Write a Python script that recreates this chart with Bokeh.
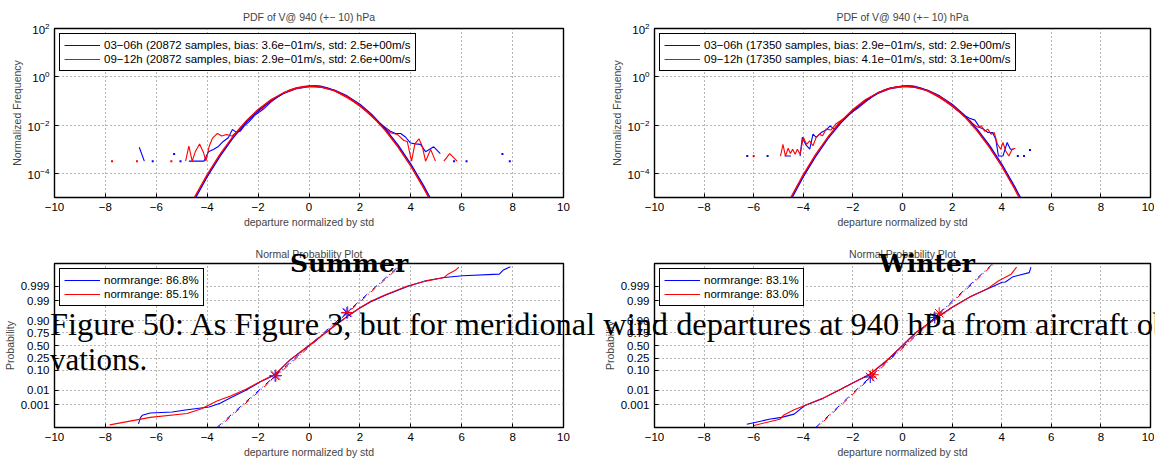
from bokeh.plotting import figure
from bokeh.layouts import gridplot, column
from bokeh.models import FixedTicker, Legend, LegendItem, Range1d, Div
from bokeh.embed import file_html
from bokeh.resources import INLINE

nan = float("nan")

# ------------------------------------------------------------------ data
x_ticks = [-10, -8, -6, -4, -2, 0, 2, 4, 6, 8, 10]
x_tick_labels = ["\u221210", "\u22128", "\u22126", "\u22124", "\u22122", "0", "2", "4", "6", "8", "10"]
pdf_ticks = [1e-4, 1e-2, 1, 1e2]
prob_ticks_z = [-3.0902, -2.3263, -1.2816, -0.6745, 0.0, 0.6745, 1.2816, 2.3263, 3.0902]
prob_tick_labels = ["0.001", "0.01", "0.10", "0.25", "0.50", "0.75", "0.90", "0.99", "0.999"]

titles_pdf = "PDF of V@ 940 (+\u2212 10) hPa"
title_np = "Normal Probability Plot"
xlabel = "departure normalized by std"

summer_legend = ["03\u221206h (20872 samples, bias: 3.6e\u221201m/s, std: 2.5e+00m/s",
                 "09\u221212h (20872 samples, bias: 2.9e\u221201m/s, std: 2.6e+00m/s"]
winter_legend = ["03\u221206h (17350 samples, bias: 2.9e\u221201m/s, std: 2.9e+00m/s",
                 "09\u221212h (17350 samples, bias: 4.1e\u221201m/s, std: 3.1e+00m/s"]
summer_np_legend = ["normrange: 86.8%", "normrange: 85.1%"]
winter_np_legend = ["normrange: 83.1%", "normrange: 83.0%"]

# fitted normal curves
fit_x = [-4.5, -4.0, -3.5, -3.0, -2.5, -2.0, -1.5, -1.0, -0.5, 0.0, 0.15, 0.5, 1.0, 1.5, 2.0, 2.5, 3.0, 3.5, 4.0, 4.5, 4.8]
fit_blue_y = [8.1e-6, 7.3e-5, 5.1e-4, 2.8e-3, 1.19e-2, 3.95e-2, 0.102, 0.206, 0.323, 0.394, 0.399, 0.375, 0.278, 0.160, 0.0721, 0.0252, 6.9e-3, 1.46e-3, 2.4e-4, 3.1e-5, 8.1e-6]
fit_red_y = [1.02e-5, 8.95e-5, 6.1e-4, 3.27e-3, 1.36e-2, 4.4e-2, 0.111, 0.218, 0.333, 0.397, 0.398, 0.368, 0.266, 0.150, 0.0657, 0.0224, 5.96e-3, 1.23e-3, 1.99e-4, 2.5e-5, 6.4e-6]

# summer empirical PDFs
summer_blue_x = [-6.67, -6.47, nan,
                 -4.72, -4.13, -3.95, -3.76, -3.56, -3.37, -3.17, -3.01, -2.87, -2.70, -2.55, -2.35, -2.15, -1.95,
                 -1.75, -1.5, -1.25, -1.0, -0.75, -0.5, -0.25, 0.0, 0.25, 0.5, 0.75, 1.0, 1.25, 1.5, 1.75, 2.0,
                 2.25, 2.5, 2.75, 3.01, 3.2, 3.4, 3.6, 3.79, 3.99, 4.18, 4.38, 4.58, 4.9, 5.16]
summer_blue_y = [1.2e-3, 3.2e-4, nan,
                 3.2e-4, 3.2e-4, 7.9e-4, 9.8e-4, 1.3e-3, 2.1e-3, 3.0e-3, 6.6e-3, 5.1e-3, 5.6e-3, 9.1e-3, 1.4e-2, 2.4e-2, 3.5e-2,
                 5.0e-2, 8.9e-2, 0.14, 0.21, 0.275, 0.34, 0.38, 0.41, 0.43, 0.40, 0.34, 0.27, 0.20, 0.148, 0.10, 0.063,
                 0.038, 0.022, 0.0126, 7.8e-3, 5.6e-3, 4.5e-3, 4.5e-3, 3.2e-3, 1.8e-3, 1.66e-3, 1.58e-3, 7.9e-4, 1.26e-3, 6.6e-4]
summer_blue_dots_x = [-6.14, -5.3, -5.05, 5.7, 6.19, 7.6, 7.89]
summer_blue_dots_y = [3.2e-4, 6.3e-4, 3.2e-4, 3.2e-4, 3.2e-4, 6.3e-4, 3.2e-4]

summer_red_x = [-4.85, -4.72, -4.59, -4.46, -4.30, -4.14, -4.05, -3.92, -3.79, -3.60, -3.43, -3.24, -3.04, -2.84, -2.65,
                -2.45, -2.25, -2.0, -1.75, -1.5, -1.25, -1.0, -0.75, -0.5, -0.25, 0.0, 0.25, 0.5, 0.75, 1.0, 1.25,
                1.5, 1.75, 2.0, 2.25, 2.5, 2.75, 2.94, 3.2, 3.47, 3.73, 3.86, 4.03, 4.16, 4.32, 4.45, 4.58, 4.78, 4.97,
                nan, 5.30, 5.53, 5.82]
summer_red_y = [3.2e-4, 1.33e-3, 3.2e-4, 8.3e-4, 1.66e-3, 7.1e-4, 3.2e-4, 1.33e-3, 2.9e-3, 4.5e-3, 3.5e-3, 4.1e-3, 3.5e-3, 5.2e-3, 9.0e-3,
                1.35e-2, 2.1e-2, 3.6e-2, 5.8e-2, 9.3e-2, 0.145, 0.215, 0.29, 0.35, 0.39, 0.42, 0.42, 0.39, 0.33, 0.26, 0.19,
                0.135, 0.092, 0.060, 0.037, 0.021, 0.0125, 8.3e-3, 4.8e-3, 4.1e-3, 2.3e-3, 2.1e-3, 3.2e-4, 1.66e-3, 2.7e-3, 1.33e-3, 3.2e-4, 9.8e-4, 3.2e-4,
                nan, 3.2e-4, 6.6e-4, 3.2e-4]
summer_red_dots_x = [-7.74, -6.76, -5.41]
summer_red_dots_y = [3.2e-4, 3.2e-4, 3.2e-4]

# winter empirical PDFs
winter_blue_x = [-4.75, -4.5, nan,
                 -4.13, -4.04, -3.91, -3.74, -3.61, -3.48, -3.28, -3.08, -2.92, -2.76, -2.56, -2.3, -2.0, -1.75, -1.5,
                 -1.25, -1.0, -0.75, -0.5, -0.25, 0.0, 0.25, 0.5, 0.75, 1.0, 1.25, 1.5, 1.75, 2.0, 2.25, 2.5, 2.7,
                 2.92, 3.11, 3.27, 3.44, 3.63, 3.76, 3.87, 4.05, 4.22, 4.35, 4.48]
winter_blue_y = [5.2e-4, 5.2e-4, nan,
                 5.2e-4, 3.1e-3, 1.6e-3, 1.0e-3, 4.2e-3, 3.1e-3, 4.9e-3, 6.2e-3, 9.3e-3, 6.8e-3, 1.2e-2, 2.1e-2, 3.6e-2, 5.5e-2, 9.0e-2,
                 0.14, 0.21, 0.28, 0.34, 0.38, 0.41, 0.43, 0.40, 0.34, 0.27, 0.20, 0.14, 0.095, 0.061, 0.038, 0.025, 0.019,
                 1.6e-2, 8.0e-3, 6.8e-3, 4.9e-3, 4.9e-3, 2.6e-3, 5.2e-4, 5.2e-4, 1.9e-3, 1.0e-3, 1.0e-3]
winter_blue_dots_x = [-6.26, -5.44, 4.65, 4.9, 5.14]
winter_blue_dots_y = [5.2e-4, 5.2e-4, 5.2e-4, 5.2e-4, 9.3e-4]

winter_red_x = [-4.92, -4.82, -4.72, -4.61, -4.52, -4.43, -4.33, -4.24, -4.13, -4.0, -3.87, -3.74, -3.61, -3.48, -3.35,
                -3.22, -3.08, -2.89, -2.69, -2.5, -2.25, -2.0, -1.75, -1.5, -1.25, -1.0, -0.75, -0.5, -0.25, 0.0, 0.25,
                0.5, 0.75, 1.0, 1.25, 1.5, 1.75, 2.0, 2.25, 2.5, 2.7, 2.85, 3.05, 3.18, 3.31, 3.44, 3.57, 3.70, 3.83,
                3.96, 4.05, 4.16, 4.29, 4.42, 4.55]
winter_red_y = [5.2e-4, 1.6e-3, 5.2e-4, 1.1e-3, 6.6e-4, 1.0e-3, 6.2e-4, 1.0e-3, 6.2e-4, 3.1e-3, 1.6e-3, 2.2e-3, 1.4e-3, 3.1e-3, 4.2e-3,
                3.6e-3, 6.8e-3, 6.2e-3, 1.1e-2, 1.5e-2, 2.3e-2, 3.8e-2, 5.9e-2, 9.4e-2, 0.145, 0.215, 0.285, 0.345, 0.385, 0.415, 0.42,
                0.39, 0.33, 0.26, 0.19, 0.135, 0.092, 0.060, 0.038, 0.023, 0.016, 1.1e-2, 8.0e-3, 9.3e-3, 5.5e-3, 6.8e-3, 4.2e-3, 4.9e-3, 1.6e-3,
                1.0e-3, 1.9e-3, 8.5e-4, 5.2e-4, 1.0e-3, 1.1e-3]
winter_red_dots_x = [-6.0]
winter_red_dots_y = [5.2e-4]

# normal probability plots: departure vs. probability (on the normal quantile scale)
summer_np_blue_x = [-6.70, -6.62, -6.55, -6.24, -5.37, -4.79, -3.93, -3.49, -3.06, -2.48, -1.91, -1.33, -0.75, 0.0,
                    0.75, 1.49, 2.0, 2.43, 3.0, 3.87, 4.59, 5.31, 6.04, 7.48, 7.62, 7.91]
summer_np_blue_z = [-4.08, -3.75, -3.63, -3.51, -3.46, -3.34, -3.2, -3.0, -2.70, -2.33, -1.89, -1.52, -0.76, 0.0,
                    0.76, 1.50, 1.95, 2.28, 2.61, 3.07, 3.37, 3.54, 3.63, 3.71, 3.91, 4.1]
summer_np_red_x = [-7.83, -6.24, -4.79, -4.22, -3.64, -3.06, -2.48, -1.91, -1.33, -0.75, 0.0, 0.75, 1.49, 2.0,
                   2.43, 3.0, 3.87, 4.59, 5.31, 5.46, 5.75, 5.89]
summer_np_red_z = [-4.13, -3.74, -3.54, -3.29, -2.9, -2.61, -2.28, -1.87, -1.5, -0.75, 0.0, 0.77, 1.50, 1.96,
                   2.30, 2.64, 3.09, 3.35, 3.54, 3.71, 3.91, 4.08]
summer_fit_blue_x = [-3.62, 3.65]
summer_fit_red_x = [-3.56, 3.70]
fit_line_z = [-4.265, 4.265]
summer_star_blue_x = [-1.33, 1.49]
summer_star_blue_z = [-1.58, 1.70]
summer_star_red_x = [-1.30, 1.52]
summer_star_red_z = [-1.56, 1.72]

winter_np_blue_x = [-6.28, -5.38, -4.88, -4.37, -3.94, -3.21, -2.49, -1.91, -1.33, -0.6, 0.0, 0.55, 1.42, 2.0,
                    2.72, 3.44, 4.02, 4.15, 4.46, 5.11, 5.18]
winter_np_blue_z = [-4.1, -3.84, -3.74, -3.57, -3.12, -2.75, -2.28, -1.89, -1.52, -0.75, 0.0, 0.68, 1.48, 1.99,
                    2.53, 2.95, 3.29, 3.3, 3.58, 3.79, 4.08]
winter_np_red_x = [-6.03, -4.95, -4.8, -4.37, -3.79, -3.21, -2.49, -1.91, -1.33, -0.6, 0.0, 0.55, 1.42, 2.0,
                   2.72, 3.44, 3.88, 4.38, 4.6]
winter_np_red_z = [-4.17, -3.84, -3.63, -3.34, -3.04, -2.74, -2.27, -1.88, -1.5, -0.74, 0.0, 0.69, 1.47, 1.98,
                   2.52, 2.97, 3.37, 3.71, 4.08]
winter_fit_blue_x = [-3.50, 3.65]
winter_fit_red_x = [-3.45, 3.70]
winter_star_blue_x = [-1.30, 1.30]
winter_star_blue_z = [-1.64, 1.46]
winter_star_red_x = [-1.20, 1.48]
winter_star_red_z = [-1.52, 1.68]

caption_line1 = "Figure 50: As Figure 3, but for meridional wind departures at 940 hPa from aircraft ob-"
caption_line2 = "vations."
season_labels = ["Summer", "Winter"]

# ------------------------------------------------------------------ layout
W_L, W_R = 600, 554
H_T, H_B = 235, 225
BL_L, BR_L, BL_R, BR_R = 52, 37, 39, 4
BT_T, BB_T, BT_B, BB_B = 28, 38, 28, 28
BLUE, RED = "#0000ff", "#ff0000"
SANS = "Liberation Sans"


def base_fig(w, h, bl, br, bt, bb, title, log):
    kw = dict(width=w, height=h, output_backend="svg", toolbar_location=None, tools="",
              x_range=Range1d(-10, 10), min_border_left=bl, min_border_right=br,
              min_border_top=bt, min_border_bottom=bb, title=title)
    if log:
        kw.update(y_axis_type="log", y_range=Range1d(1e-5, 1e2))
    else:
        kw.update(y_range=Range1d(-4.265, 4.265))
    p = figure(**kw)
    p.title.text_font = SANS
    p.title.text_font_size = "10.5px"
    p.title.text_font_style = "normal"
    p.title.align = "center"
    p.title.standoff = 12 if log else 7
    p.outline_line_color = "black"
    p.outline_line_width = 1.4
    p.outline_line_alpha = 1
    for ax in p.axis:
        ax.axis_line_color = "black"
        ax.major_tick_in = 4
        ax.major_tick_out = 0
        ax.major_tick_line_color = "black"
        ax.minor_tick_line_color = None
        ax.major_label_text_font = SANS
        ax.major_label_text_font_size = "11.5px"
        ax.major_label_text_color = "black"
        ax.axis_label_text_font = SANS
        ax.axis_label_text_font_size = "10.5px"
        ax.axis_label_text_font_style = "normal"
        ax.axis_label_standoff = 2
        ax.major_label_standoff = 5
    p.xaxis.ticker = FixedTicker(ticks=x_ticks)
    p.xaxis.major_label_overrides = dict(zip(x_ticks, x_tick_labels))
    p.xgrid.ticker = FixedTicker(ticks=x_ticks)
    p.xaxis.axis_label = xlabel
    if log:
        p.yaxis.ticker = FixedTicker(ticks=pdf_ticks)
        p.ygrid.ticker = FixedTicker(ticks=pdf_ticks)
        p.yaxis.axis_label = "Normalized Frequency"
    else:
        p.yaxis.ticker = FixedTicker(ticks=prob_ticks_z)
        p.ygrid.ticker = FixedTicker(ticks=prob_ticks_z)
        p.yaxis.major_label_overrides = dict(zip(prob_ticks_z, prob_tick_labels))
        p.yaxis.axis_label = "Probability"
    p.grid.grid_line_color = "#6a6a6a"
    p.grid.grid_line_dash = "1 3"
    p.grid.grid_line_width = 1
    return p


def add_legend(p, rb, rr, labels):
    lg = Legend(items=[LegendItem(label=labels[0], renderers=[rb]),
                       LegendItem(label=labels[1], renderers=[rr])],
                location="top_left", margin=5, padding=4, spacing=0,
                label_height=14, glyph_height=14, glyph_width=36, label_standoff=4,
                label_text_font=SANS, label_text_font_size="11.5px", label_text_color="black",
                border_line_color="black", border_line_width=1.3, border_line_alpha=1,
                background_fill_alpha=1)
    p.add_layout(lg)


def pdf_panel(w, bl, br, bx, by, bdx, bdy, rx, ry, rdx, rdy, labels):
    p = base_fig(w, H_T, bl, br, BT_T, BB_T, titles_pdf, True)
    rb = p.line(bx, by, color=BLUE, line_width=1.1)
    rr = p.line(rx, ry, color=RED, line_width=1.1)
    p.scatter(bdx, bdy, marker="square", size=2, color=BLUE, line_width=0)
    p.scatter(rdx, rdy, marker="square", size=2, color=RED, line_width=0)
    p.line(fit_x, fit_blue_y, color=BLUE, line_width=1.4)
    p.line(fit_x, fit_red_y, color=RED, line_width=1.4)
    add_legend(p, rb, rr, labels)
    return p


def np_panel(w, bl, br, bx, bz, rx, rz, fbx, frx, sbx, sbz, srx, srz, labels):
    p = base_fig(w, H_B, bl, br, BT_B, BB_B, title_np, False)
    p.line(fbx, fit_line_z, color=BLUE, line_width=1, line_dash="6 3 1 3")
    p.line(frx, fit_line_z, color=RED, line_width=1, line_dash="6 3 1 3", line_dash_offset=4)
    rb = p.line(bx, bz, color=BLUE, line_width=1.1)
    rr = p.line(rx, rz, color=RED, line_width=1.1)
    p.scatter(sbx, sbz, marker="asterisk", size=12, line_color=BLUE, line_width=1)
    p.scatter(srx, srz, marker="asterisk", size=12, line_color=RED, line_width=1)
    add_legend(p, rb, rr, labels)
    return p


p1 = pdf_panel(W_L, BL_L, BR_L, summer_blue_x, summer_blue_y, summer_blue_dots_x, summer_blue_dots_y,
               summer_red_x, summer_red_y, summer_red_dots_x, summer_red_dots_y, summer_legend)
p2 = pdf_panel(W_R, BL_R, BR_R, winter_blue_x, winter_blue_y, winter_blue_dots_x, winter_blue_dots_y,
               winter_red_x, winter_red_y, winter_red_dots_x, winter_red_dots_y, winter_legend)
p3 = np_panel(W_L, BL_L, BR_L, summer_np_blue_x, summer_np_blue_z, summer_np_red_x, summer_np_red_z,
              summer_fit_blue_x, summer_fit_red_x, summer_star_blue_x, summer_star_blue_z,
              summer_star_red_x, summer_star_red_z, summer_np_legend)
p4 = np_panel(W_R, BL_R, BR_R, winter_np_blue_x, winter_np_blue_z, winter_np_red_x, winter_np_red_z,
              winter_fit_blue_x, winter_fit_red_x, winter_star_blue_x, winter_star_blue_z,
              winter_star_red_x, winter_star_red_z, winter_np_legend)

grid = gridplot([[p1, p2], [p3, p4]], toolbar_location=None)


# page text printed over the figure (document caption and season headings)
def overlay(text, left, top, width, height, font, size, weight="normal", align="left", clip=False):
    styles = {"position": "absolute", "left": f"{left}px", "top": f"{top}px",
              "z-index": "50", "white-space": "nowrap",
              "font-family": font, "font-size": f"{size}px", "font-weight": weight,
              "line-height": f"{size}px", "color": "black", "text-align": align,
              "pointer-events": "none", "overflow": "hidden" if clip else "visible"}
    return Div(text=text, width=width, height=height, margin=0, styles=styles)


texts = [
    overlay(caption_line1, 50, 308, 1105, 36, "Liberation Serif", 32.4, clip=True),
    overlay(caption_line2, 50, 344, 200, 36, "Liberation Serif", 31),
    overlay(season_labels[0], 249, 251, 200, 32, "DejaVu Serif", 25, "bold", "center"),
    overlay(season_labels[1], 827, 251, 200, 32, "DejaVu Serif", 25, "bold", "center"),
]

page = column(grid, *texts, spacing=0)

open("out.html", "w").write(file_html(page, INLINE))
